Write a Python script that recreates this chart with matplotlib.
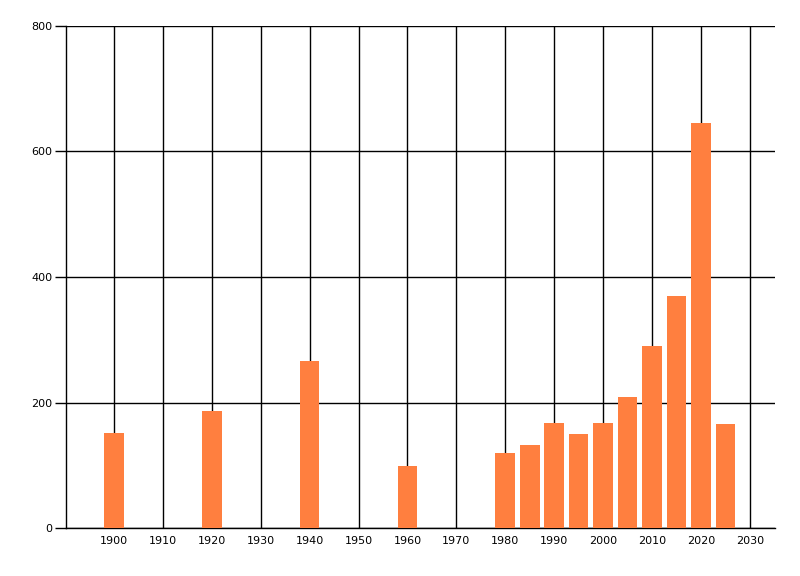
import matplotlib
matplotlib.use("Agg")
import matplotlib.pyplot as plt

years = [1900, 1920, 1940, 1960, 1980, 1985, 1990, 1995, 2000, 2005, 2010, 2015, 2020, 2025]
values = [152, 187, 266, 99, 120, 133, 168, 150, 168, 208, 290, 370, 646, 165]
xticks = list(range(1900, 2031, 10))
yticks = [0, 200, 400, 600, 800]

fig = plt.figure(figsize=(8, 5.76), dpi=100)
ax = fig.add_axes([0.0825, 0.0833, 0.886, 0.8716])
ax.set_axisbelow(True)
ax.grid(True, color="black", linewidth=1)
ax.bar(years, values, width=4, color="#FF7F3F", zorder=3)
ax.set_xlim(1890.2, 2035.1)
ax.set_ylim(0, 800)
ax.set_xticks(xticks)
ax.set_xticklabels([str(x) for x in xticks])
ax.set_yticks(yticks)
ax.set_yticklabels([str(y) for y in yticks])
for s in ["top", "right"]:
    ax.spines[s].set_visible(False)
for s in ["left", "bottom"]:
    ax.spines[s].set_color("black")
    ax.spines[s].set_linewidth(1)
ax.tick_params(axis="y", labelsize=8, length=8, width=1, color="black", pad=2)
ax.tick_params(axis="x", labelsize=8, length=0, pad=6)
fig.savefig("out.png", dpi=100)
